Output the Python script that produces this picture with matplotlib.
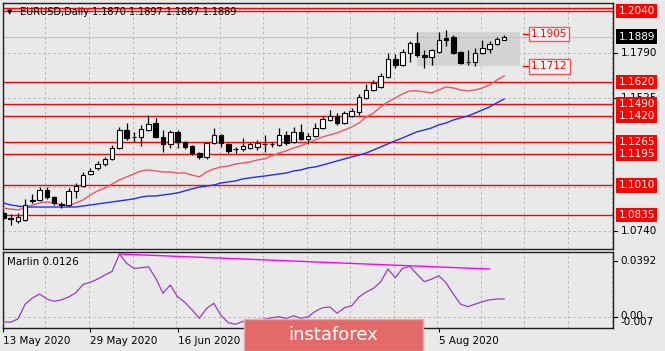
import matplotlib
matplotlib.use("Agg")
import matplotlib.pyplot as plt
import numpy as np
from matplotlib.patches import Rectangle

# Datos de velas (EURUSD diario)
opens = [1.0847, 1.0817, 1.0800, 1.0805, 1.0918, 1.0924, 1.0983, 1.0941, 1.0900, 1.0894,
         1.0977, 1.1006, 1.1077, 1.1113, 1.1136, 1.1166, 1.1231, 1.1337, 1.1296, 1.1296,
         1.1337, 1.1378, 1.1296, 1.1255, 1.1326, 1.1267, 1.1243, 1.1201, 1.1178, 1.1261,
         1.1308, 1.1255, 1.1225, 1.1225, 1.1231, 1.1237, 1.1255, 1.1252, 1.1249, 1.1308,
         1.1267, 1.1326, 1.1284, 1.1302, 1.1349, 1.1396, 1.1420, 1.1378, 1.1420, 1.1443,
         1.1526, 1.1573, 1.1591, 1.1650, 1.1756, 1.1721, 1.1792, 1.1851, 1.1780, 1.1768,
         1.1798, 1.1881, 1.1886, 1.1798, 1.1739, 1.1739, 1.1792, 1.1816, 1.1845, 1.1870]
highs = [1.0859, 1.0841, 1.0847, 1.0930, 1.0959, 1.1000, 1.1000, 1.0947, 1.0912, 1.0994,
         1.1024, 1.1089, 1.1113, 1.1154, 1.1178, 1.1249, 1.1355, 1.1378, 1.1326, 1.1367,
         1.1426, 1.1408, 1.1337, 1.1337, 1.1337, 1.1273, 1.1249, 1.1207, 1.1267, 1.1349,
         1.1314, 1.1261, 1.1237, 1.1290, 1.1267, 1.1279, 1.1308, 1.1267, 1.1349, 1.1331,
         1.1355, 1.1373, 1.1320, 1.1378, 1.1420, 1.1455, 1.1437, 1.1449, 1.1467, 1.1550,
         1.1609, 1.1632, 1.1674, 1.1792, 1.1786, 1.1816, 1.1863, 1.1916, 1.1810, 1.1816,
         1.1916, 1.1928, 1.1898, 1.1804, 1.1810, 1.1821, 1.1869, 1.1863, 1.1886, 1.1897]
lows = [1.0805, 1.0776, 1.0788, 1.0800, 1.0906, 1.0918, 1.0930, 1.0894, 1.0876, 1.0888,
        1.0935, 1.1000, 1.1071, 1.1101, 1.1124, 1.1160, 1.1225, 1.1279, 1.1267, 1.1243,
        1.1331, 1.1290, 1.1207, 1.1231, 1.1231, 1.1225, 1.1189, 1.1166, 1.1166, 1.1255,
        1.1237, 1.1201, 1.1201, 1.1214, 1.1225, 1.1219, 1.1207, 1.1237, 1.1243, 1.1249,
        1.1261, 1.1279, 1.1255, 1.1296, 1.1343, 1.1390, 1.1367, 1.1373, 1.1414, 1.1426,
        1.1520, 1.1568, 1.1585, 1.1644, 1.1703, 1.1715, 1.1739, 1.1768, 1.1703, 1.1721,
        1.1792, 1.1833, 1.1786, 1.1727, 1.1721, 1.1715, 1.1786, 1.1792, 1.1839, 1.1867]
closes = [1.0817, 1.0814, 1.0823, 1.0894, 1.0924, 1.0983, 1.0941, 1.0906, 1.0894, 1.0977,
          1.1006, 1.1071, 1.1095, 1.1136, 1.1166, 1.1231, 1.1337, 1.1290, 1.1293, 1.1343,
          1.1373, 1.1296, 1.1255, 1.1326, 1.1267, 1.1237, 1.1201, 1.1178, 1.1261, 1.1308,
          1.1261, 1.1214, 1.1222, 1.1243, 1.1255, 1.1261, 1.1252, 1.1255, 1.1308, 1.1261,
          1.1326, 1.1284, 1.1302, 1.1349, 1.1402, 1.1420, 1.1378, 1.1437, 1.1449, 1.1532,
          1.1573, 1.1615, 1.1656, 1.1756, 1.1721, 1.1798, 1.1851, 1.1780, 1.1768, 1.1810,
          1.1869, 1.1869, 1.1792, 1.1733, 1.1736, 1.1792, 1.1821, 1.1845, 1.1875, 1.1889]

# Medias moviles
ma_rapida = [1.0876, 1.0870, 1.0865, 1.0876, 1.0894, 1.0906, 1.0912, 1.0906, 1.0894, 1.0888,
             1.0906, 1.0924, 1.0953, 1.0977, 1.0994, 1.1018, 1.1042, 1.1060, 1.1077, 1.1095,
             1.1101, 1.1095, 1.1089, 1.1089, 1.1083, 1.1083, 1.1071, 1.1060, 1.1089, 1.1107,
             1.1119, 1.1124, 1.1136, 1.1142, 1.1148, 1.1160, 1.1166, 1.1184, 1.1201, 1.1214,
             1.1231, 1.1243, 1.1261, 1.1279, 1.1296, 1.1308, 1.1320, 1.1337, 1.1355, 1.1378,
             1.1414, 1.1437, 1.1473, 1.1503, 1.1526, 1.1550, 1.1568, 1.1568, 1.1562, 1.1556,
             1.1573, 1.1591, 1.1585, 1.1573, 1.1568, 1.1573, 1.1585, 1.1603, 1.1632, 1.1656]
ma_lenta = [1.0906, 1.0894, 1.0888, 1.0882, 1.0882, 1.0882, 1.0882, 1.0882, 1.0882, 1.0882,
            1.0882, 1.0888, 1.0894, 1.0900, 1.0906, 1.0912, 1.0918, 1.0924, 1.0930, 1.0941,
            1.0947, 1.0947, 1.0953, 1.0959, 1.0965, 1.0977, 1.0989, 1.1000, 1.1006, 1.1012,
            1.1024, 1.1030, 1.1036, 1.1048, 1.1054, 1.1060, 1.1065, 1.1071, 1.1077, 1.1083,
            1.1095, 1.1101, 1.1113, 1.1119, 1.1130, 1.1142, 1.1154, 1.1166, 1.1178, 1.1189,
            1.1201, 1.1219, 1.1237, 1.1255, 1.1273, 1.1290, 1.1308, 1.1326, 1.1337, 1.1349,
            1.1367, 1.1378, 1.1396, 1.1408, 1.1420, 1.1437, 1.1455, 1.1473, 1.1497, 1.1520]

# Oscilador Marlin
marlin = [-0.0033, -0.0037, -0.0014, 0.0089, 0.0133, 0.0161, 0.0126, 0.0110, 0.0120, 0.0140,
          0.0170, 0.0229, 0.0243, 0.0266, 0.0294, 0.0320, 0.0441, 0.0376, 0.0340, 0.0345,
          0.0352, 0.0271, 0.0166, 0.0224, 0.0142, 0.0103, 0.0050, -0.0009, 0.0060, 0.0096,
          0.0010, -0.0040, -0.0051, -0.0030, -0.0025, -0.0020, -0.0015, -0.0005, 0.0002, -0.0010,
          0.0009, -0.0009, 0.0002, 0.0040, 0.0065, 0.0070, 0.0026, 0.0065, 0.0079, 0.0140,
          0.0175, 0.0201, 0.0247, 0.0336, 0.0275, 0.0340, 0.0355, 0.0300, 0.0247, 0.0265,
          0.0289, 0.0240, 0.0160, 0.0090, 0.0072, 0.0090, 0.0107, 0.0120, 0.0126, 0.0126]
marlin_linea_x = [16, 67]
marlin_linea_y = [0.0441, 0.0336]

# Niveles horizontales
niveles = [1.2040, 1.1620, 1.1490, 1.1420, 1.1265, 1.1195, 1.1010, 1.0835]
nivel_extra = 1.2058
objetivos = [1.1905, 1.1712]
zona = (57, 71.2, 1.1715, 1.1918)
precio_actual = 1.1889

fechas = ['13 May 2020', '29 May 2020', '16 Jun 2020', '2 Jul 2020', '20 Jul 2020', '5 Aug 2020']
fechas_barra = [0, 12, 24, 36, 48, 60]

bg = '#E9E9E9'
fig = plt.figure(figsize=(6.65, 3.51), dpi=100, facecolor=bg)
ax = fig.add_axes([0.0038, 0.2906, 0.9180, 0.7009], facecolor=bg)
ax2 = fig.add_axes([0.0038, 0.0655, 0.9180, 0.2165], facecolor=bg)

x = np.arange(len(opens))
o = np.array(opens); c = np.array(closes)

# Zona gris
ax.add_patch(Rectangle((zona[0], zona[2]), zona[1] - zona[0], zona[3] - zona[2],
                       facecolor='#D3D3D3', edgecolor='none', zorder=1))

# Grid
for gx in np.arange(0, 85, 6):
    ax.axvline(gx - 0.2, color='#B0B0B0', lw=0.6, ls=(0, (3, 3)), zorder=0)
    ax2.axvline(gx - 0.2, color='#B0B0B0', lw=0.6, ls=(0, (3, 3)), zorder=0)
for gy in [1.0740, 1.10025, 1.1265, 1.15275, 1.1790, 1.20525]:
    ax.axhline(gy, color='#B0B0B0', lw=0.6, ls=(0, (3, 3)), zorder=0)
ax2.axhline(0.0, color='#B0B0B0', lw=0.6, ls=(0, (3, 3)), zorder=0)

# Niveles rojos
for n in niveles + [nivel_extra]:
    ax.axhline(n, color='#FF0000', lw=1.0, zorder=2)
ax.axhline(precio_actual, color='#C4C4C4', lw=0.9, zorder=1.5)

# Medias
ax.plot(x, ma_rapida, color='#EE5566', lw=1.0, zorder=3)
ax.plot(x, ma_lenta, color='#2030F0', lw=1.0, zorder=3)

# Velas
ax.vlines(x, lows, highs, color='black', lw=0.9, zorder=4)
alcistas = c >= o
ax.bar(x[alcistas], (c - o)[alcistas], bottom=o[alcistas], width=0.62,
       color='white', edgecolor='black', linewidth=0.8, zorder=5)
ax.bar(x[~alcistas], (o - c)[~alcistas], bottom=c[~alcistas], width=0.62,
       color='black', edgecolor='black', linewidth=0.8, zorder=5)

# Objetivos
for t in objetivos:
    ax.plot([71.6, 72.6], [t, t], color='#FF0000', lw=1.0, zorder=3)
    ax.text(72.7, t, f'{t:.4f}', color='#FF0000', fontsize=7.5, va='center', ha='left',
            zorder=6, bbox=dict(boxstyle='square,pad=0.2', fc='#F4F4F4', ec='#FF5050', lw=1.0))

ax.set_xlim(-0.11, 84.0)
ax.set_ylim(1.0634, 1.2087)
ax.set_xticks([])
ax.set_yticks([])

# Etiquetas del eje de precios
yt = ax.get_yaxis_transform()
for p in [1.1790, 1.1525, 1.0740]:
    ax.plot([1.0, 1.006], [p, p], transform=yt, color='black', lw=0.8, clip_on=False)
    ax.text(1.012, p, f'{p:.4f}', transform=yt, fontsize=7.5, va='center', ha='left', zorder=5)
for n in niveles:
    ax.text(1.009, n, f'{n:.4f}', transform=yt, fontsize=7.5, va='center', ha='left', color='white',
            zorder=7, bbox=dict(boxstyle='square,pad=0.22', fc='#FF0000', ec='none'))
ax.text(1.009, precio_actual, f'{precio_actual:.4f}', transform=yt, fontsize=7.5, va='center',
        ha='left', color='white', zorder=7, bbox=dict(boxstyle='square,pad=0.22', fc='black', ec='none'))

fig.text(0.011, 0.966, '\u25BC', fontsize=5, va='center')
fig.text(0.030, 0.966, 'EURUSD,Daily 1.1870 1.1897 1.1867 1.1889', fontsize=7, va='center')

# Panel inferior
ax2.plot(x, marlin, color='#9A3CC0', lw=0.9, zorder=3)
ax2.plot(marlin_linea_x, marlin_linea_y, color='#FF00FF', lw=1.0, zorder=3)
ax2.set_xlim(-0.11, 84.0)
ax2.set_ylim(-0.0077, 0.0455)
ax2.set_yticks([])
ax2.set_xticks(fechas_barra)
ax2.set_xticklabels(fechas, fontsize=7.5, ha='left')
ax2.tick_params(axis='x', length=3, pad=3)
yt2 = ax2.get_yaxis_transform()
for v in [0.0392, 0.0]:
    ax2.plot([1.0, 1.006], [v, v], transform=yt2, color='black', lw=0.8, clip_on=False)
ax2.text(1.012, 0.0392, '0.0392', transform=yt2, fontsize=7.5, va='center')
ax2.text(1.012, 0.0007, '0.00', transform=yt2, fontsize=7.5, va='center')
ax2.text(1.012, -0.0035, '-0.007', transform=yt2, fontsize=7.5, va='center')
ax2.text(0.008, 0.87, 'Marlin 0.0126', transform=ax2.transAxes, fontsize=7.5, va='center')

for a in (ax, ax2):
    for s in a.spines.values():
        s.set_color('#202020')
        s.set_linewidth(1.0)

# Marca de agua
fig.patches.append(Rectangle((0.3669, 0.0), 0.2692, 0.0912, transform=fig.transFigure,
                             facecolor='#E46A6A', edgecolor='#F2A5A5', lw=1.0, zorder=10))
fig.text(0.5015, 0.045, 'instaforex', color='white', fontsize=13, ha='center', va='center', zorder=11)

fig.savefig('out.png', dpi=100, facecolor=bg)
